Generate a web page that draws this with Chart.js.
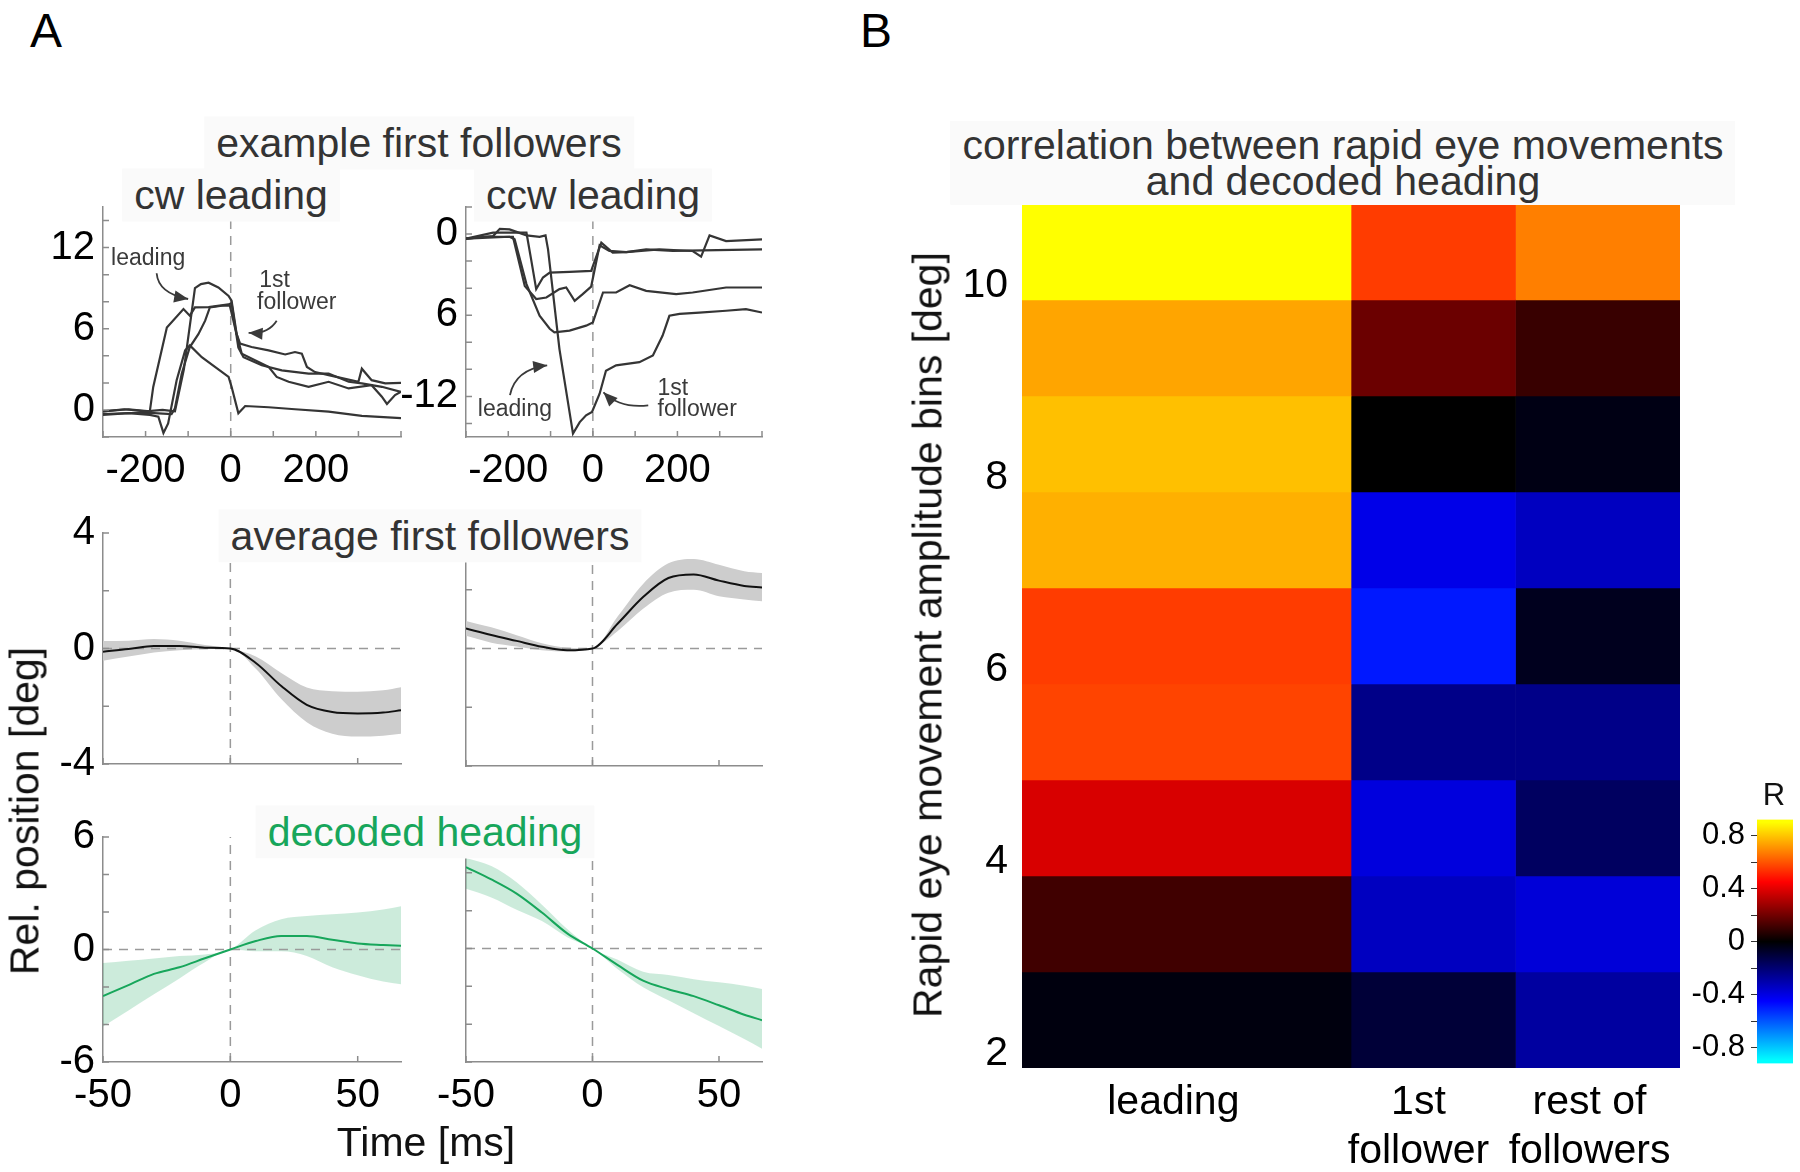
<!DOCTYPE html>
<html>
<head>
<meta charset="utf-8">
<script src="https://cdn.jsdelivr.net/npm/chart.js@4.4.1/dist/chart.umd.min.js"></script>
<style>
  body { margin: 0; width: 1800px; height: 1172px; background: #fff; position: relative; overflow: hidden;
         font-family: "Liberation Sans", Arial, Helvetica, sans-serif; }
  .box { position: absolute; }
  .txt { position: absolute; transform: translate(-50%, -50%); white-space: nowrap; line-height: 1; color: #333; font-size: 41px; }
  .bg { background: #fafafa; padding: 6px 12px; }
  .rot { transform: translate(-50%, -50%) rotate(-90deg); color: #111; }
</style>
</head>
<body>
<div class="box" style="left:3px;top:175px;width:408px;height:322px"><canvas id="cwEx"></canvas></div>
<div class="box" style="left:366px;top:175px;width:406px;height:322px"><canvas id="ccwEx"></canvas></div>
<div class="box" style="left:3px;top:501px;width:408px;height:295px"><canvas id="cwAvg"></canvas></div>
<div class="box" style="left:366px;top:501px;width:406px;height:295px"><canvas id="ccwAvg"></canvas></div>
<div class="box" style="left:3px;top:805px;width:408px;height:317px"><canvas id="cwDec"></canvas></div>
<div class="box" style="left:366px;top:805px;width:406px;height:317px"><canvas id="ccwDec"></canvas></div>
<div class="box" style="left:922px;top:144px;width:768px;height:1030px"><canvas id="heat"></canvas></div>
<div class="box" style="left:1677px;top:795px;width:121px;height:293px"><canvas id="cbar"></canvas></div>

<div class="txt" style="left:46px;top:31px;font-size:48px;color:#000">A</div>
<div class="txt" style="left:876px;top:31px;font-size:48px;color:#000">B</div>
<div class="txt bg" style="left:419px;top:143px">example first followers</div>
<div class="txt bg" style="left:231px;top:195px">cw leading</div>
<div class="txt bg" style="left:593px;top:195px">ccw leading</div>
<div class="txt bg" style="left:430px;top:536px">average first followers</div>
<div class="txt bg" style="left:425px;top:832px;color:#17a65b">decoded heading</div>
<div class="txt" style="left:426px;top:1142px;color:#111">Time [ms]</div>
<div class="txt rot" style="left:25px;top:811px">Rel. position [deg]</div>
<div class="txt bg" style="left:1343px;top:163px;line-height:0.88;text-align:center">correlation between rapid eye movements<br>and decoded heading</div>
<div class="txt rot" style="left:928px;top:635px">Rapid eye movement amplitude bins [deg]</div>
<div class="txt" style="left:1774px;top:794px;font-size:31px;color:#111">R</div>

<script>
// ---- example traces [time ms, position deg] ----
const cwTraceA = [[-300,-0.1],[-250,0.05],[-200,-0.1],[-160,0.0],[-131,-0.1],[-110,3.0],[-84,9.0],[-70,9.3],[-52,9.4],[-29,9.05],[-5,8.43],[2,8.07],[14,5.6],[22,4.9],[49,4.65],[89,4.4],[128,4.1],[151,4.28],[167,4.16],[179,3.18],[198,2.8],[230,2.57],[269,2.3],[300,2.08],[308,3.05],[331,2.2],[363,1.96],[400,2.0]];
const cwTraceB = [[-300,-0.1],[-240,0.05],[-190,-0.1],[-182,1.7],[-150,6.1],[-111,7.46],[-96,6.97],[-84,7.58],[-52,7.6],[-5,7.8],[2,7.9],[18,4.6],[30,3.9],[73,3.3],[120,2.93],[183,2.69],[230,2.69],[277,2.08],[308,1.96],[355,1.71],[400,1.34]];
const cwTraceC = [[-300,-0.3],[-200,-0.2],[-139,-0.3],[-131,0.12],[-115,2.7],[-96,4.65],[-76,5.6],[-60,6.6],[-49,7.58],[-21,7.7],[-2,7.7],[10,6.1],[26,4.16],[57,3.67],[89,3.18],[108,2.44],[136,2.08],[183,1.71],[230,2.08],[277,1.59],[331,1.83],[355,0.98],[367,0.44],[386,1.1],[400,1.34]];
const cwTraceD = [[-300,-0.37],[-240,-0.24],[-190,-0.37],[-170,-0.5],[-158,-1.7],[-147,-1.0],[-127,2.2],[-107,4.4],[-96,4.77],[-68,3.9],[-37,3.18],[-5,2.44],[2,1.71],[18,-0.24],[34,0.29],[89,0.2],[151,0.05],[230,-0.12],[308,-0.44],[400,-0.61]];

const ccwTraceA = [[-300,-0.34],[-236,-0.15],[-220,0.39],[-197,0.34],[-157,-0.1],[-126,-0.2],[-112,-0.1],[-106,-1.13],[-79,-8.5],[-47,-14.75],[-31,-13.9],[-16,-13.4],[-2,-13.15],[16,-11.8],[31,-10.1],[55,-9.7],[110,-9.47],[142,-8.98],[165,-7.5],[181,-6.04],[205,-5.9],[252,-5.8],[315,-5.67],[362,-5.55],[400,-5.8]];
const ccwTraceB = [[-300,-0.34],[-252,-0.2],[-189,-0.2],[-161,-3.83],[-134,-4.8],[-110,-4.69],[-79,-4.07],[-63,-3.95],[-43,-4.93],[-24,-4.44],[-4,-3.88],[16,-0.83],[39,-1.25],[79,-1.33],[157,-1.13],[236,-1.25],[256,-1.67],[276,-0.1],[315,-0.52],[400,-0.39]];
const ccwTraceC = [[-300,-0.34],[-197,-0.2],[-185,-0.39],[-157,-3.7],[-126,-6.04],[-102,-7.0],[-91,-7.26],[-55,-7.14],[-16,-6.77],[0,-6.53],[24,-4.32],[55,-4.32],[87,-3.78],[126,-4.2],[197,-4.44],[236,-4.32],[315,-3.95],[400,-3.95]];
const ccwTraceD = [[-300,-0.34],[-236,0.1],[-157,0.1],[-146,-1.87],[-134,-4.07],[-118,-3.21],[-102,-2.85],[-55,-2.8],[-4,-2.72],[20,-0.64],[47,-1.37],[79,-1.33],[126,-1.13],[189,-1.25],[400,-1.13]];

// ---- averages: time axis, mean and band limits ----
const tAvg = [-50, -40, -30, -20, -10, 0, 10, 20, 30, 40, 50, 60, 67];
const cwAvgMean = [-0.11, -0.02, 0.09, 0.09, 0.03, 0, -0.5, -1.3, -1.95, -2.2, -2.25, -2.22, -2.14];
const cwAvgUp   = [0.26, 0.27, 0.33, 0.27, 0.12, 0, -0.28, -0.85, -1.35, -1.48, -1.5, -1.45, -1.34];
const cwAvgLo   = [-0.42, -0.28, -0.14, -0.06, -0.03, 0, -0.7, -1.75, -2.55, -2.95, -3.05, -3.02, -2.95];
const ccwAvgMean = [0.68, 0.46, 0.26, 0.06, -0.06, 0, 0.85, 1.75, 2.4, 2.52, 2.31, 2.13, 2.08];
const ccwAvgUp   = [0.94, 0.72, 0.45, 0.18, 0.03, 0, 1.1, 2.2, 2.9, 3.05, 2.85, 2.63, 2.57];
const ccwAvgLo   = [0.43, 0.2, 0.07, -0.06, -0.1, 0, 0.6, 1.35, 1.9, 2.0, 1.78, 1.67, 1.61];

const cwDecMean = [-2.48, -1.9, -1.3, -0.95, -0.47, 0, 0.45, 0.72, 0.72, 0.52, 0.32, 0.24, 0.2];
const cwDecUp   = [-0.72, -0.6, -0.48, -0.34, -0.26, 0, 1.03, 1.62, 1.79, 1.88, 1.97, 2.14, 2.31];
const cwDecLo   = [-4.1, -3.25, -2.39, -1.54, -0.68, 0, -0.09, -0.09, -0.34, -0.94, -1.37, -1.71, -1.85];
const ccwDecMean = [4.3, 3.65, 2.9, 1.9, 0.8, 0, -0.88, -1.7, -2.15, -2.52, -3.0, -3.5, -3.79];
const ccwDecUp   = [4.79, 4.36, 3.5, 2.31, 1.03, 0, -0.6, -1.23, -1.4, -1.62, -1.79, -1.97, -2.14];
const ccwDecLo   = [3.16, 2.7, 2.05, 1.45, 0.6, 0, -1.1, -2.05, -2.74, -3.42, -4.1, -4.79, -5.3];

// ---- tick labels ----
const exXTicks = [-200, 0, 200];
const avgXTicks = [-50, 0, 50];
const cwExYVals = [0, 6, 12];
const cwExYText = ['0', '6', '12'];
const ccwExYVals = [0, -6, -12];
const ccwExYText = ['0', '6', '-12'];
const avgYVals = [4, 0, -4];
const decYVals = [6, 0, -6];

// ---- heatmap: correlation R, rows bottom (2) to top (10) ----
const ampBins = [2.35, 3.35, 4.35, 5.35, 6.35, 7.35, 8.35, 9.35, 10.35];
const heatCols = ['leading', '1st follower', 'rest of followers'];
const heatColEdges = [0, 2, 3, 4];
const heatColTicks = [0.92, 2.41, 3.45];
const heatColText = [['leading'], ['1st', 'follower'], ['rest of', 'followers']];
const rLeading = [-0.025, 0.113, 0.381, 0.57, 0.556, 0.76, 0.789, 0.741, 0.9];
const rFirst   = [-0.099, -0.339, -0.39, -0.24, -0.492, -0.409, 0.0, 0.189, 0.556];
const rRest    = [-0.282, -0.381, -0.169, -0.24, -0.053, -0.339, -0.035, 0.099, 0.674];
const cbTickVals = [-0.8, -0.4, 0, 0.4, 0.8];
const cbTickText = ['-0.8', '-0.4', '0', '0.4', '0.8'];

Chart.defaults.font.family = '"Liberation Sans", Arial, Helvetica, sans-serif';
Chart.defaults.color = '#000';
const AXIS = '#8c8c8c';
const GREEN = '#17a65b';
const GREEN_BAND = 'rgba(23,166,91,0.22)';
const GRAY_BAND = '#cdcdcd';
const cLim = 0.9;

// cold-hot colormap: cyan-blue-black-red-yellow
function cmap(v) {
    const t = Math.max(-1, Math.min(1, v / cLim));
    const a = Math.abs(t);
    const hi = Math.round(255 * Math.min(1, 2 * a));
    const mid = Math.round(255 * Math.max(0, 2 * a - 1));
    return t >= 0 ? `rgb(${hi},${mid},0)` : `rgb(0,${mid},${hi})`;
}

// matlab style inward tick marks
const inTicks = {
    id: 'inTicks',
    afterDraw(chart) {
        const {ctx, chartArea: a, scales: {x, y}} = chart;
        ctx.save();
        ctx.strokeStyle = AXIS;
        ctx.lineWidth = 1.5;
        ctx.beginPath();
        x.ticks.forEach(t => { const p = x.getPixelForValue(t.value); ctx.moveTo(p, a.bottom); ctx.lineTo(p, a.bottom - 6); });
        y.ticks.forEach(t => { const p = y.getPixelForValue(t.value); ctx.moveTo(a.left, p); ctx.lineTo(a.left + 6, p); });
        ctx.stroke();
        ctx.restore();
    }
};

// small text + curved arrows, placed in data units
function notesPlugin(notes) {
    return {
        id: 'notes',
        afterDatasetsDraw(chart) {
            if (!notes) return;
            const {ctx, scales: {x, y}} = chart;
            const P = p => [x.getPixelForValue(p[0]), y.getPixelForValue(p[1])];
            ctx.save();
            ctx.fillStyle = '#3a3a3a';
            ctx.strokeStyle = '#3a3a3a';
            ctx.font = '23px "Liberation Sans", Arial, sans-serif';
            ctx.textBaseline = 'middle';
            notes.text.forEach(t => { const p = P([t.x, t.y]); ctx.fillText(t.s, p[0], p[1]); });
            ctx.lineWidth = 1.8;
            notes.arrows.forEach(ar => {
                const p0 = P(ar.from), p1 = P(ar.ctrl), p2 = P(ar.to);
                ctx.beginPath();
                ctx.moveTo(p0[0], p0[1]);
                ctx.quadraticCurveTo(p1[0], p1[1], p2[0], p2[1]);
                ctx.stroke();
                const ang = Math.atan2(p2[1] - p1[1], p2[0] - p1[0]);
                const L = 14, W = 6;
                ctx.beginPath();
                ctx.moveTo(p2[0], p2[1]);
                ctx.lineTo(p2[0] - L * Math.cos(ang) + W * Math.sin(ang), p2[1] - L * Math.sin(ang) - W * Math.cos(ang));
                ctx.lineTo(p2[0] - L * Math.cos(ang) - W * Math.sin(ang), p2[1] - L * Math.sin(ang) + W * Math.cos(ang));
                ctx.closePath();
                ctx.fill();
            });
            ctx.restore();
        }
    };
}

const pts = arr => arr.map(p => ({x: p[0], y: p[1]}));
const zip = (xs, ys) => xs.map((x, i) => ({x, y: ys[i]}));

function trace(arr) {
    return {data: pts(arr), borderColor: '#353535', borderWidth: 2.2, pointRadius: 0, tension: 0, fill: false, order: 0};
}
function dashed(data) {
    return {data, borderColor: '#9a9a9a', borderDash: [9, 7], borderWidth: 1.5, pointRadius: 0, fill: false, order: 1};
}
function band(t, mean, up, lo, lineColor, bandColor) {
    return [
        {data: zip(t, mean), borderColor: lineColor, borderWidth: 2, pointRadius: 0, cubicInterpolationMode: 'monotone', fill: false, order: 0},
        {data: zip(t, lo), borderWidth: 0, pointRadius: 0, cubicInterpolationMode: 'monotone', fill: false, order: 2},
        {data: zip(t, up), borderWidth: 0, pointRadius: 0, cubicInterpolationMode: 'monotone', fill: '-1', backgroundColor: bandColor, order: 2}
    ];
}

function makeChart(id, c) {
    return new Chart(document.getElementById(id), {
        type: 'line',
        data: {datasets: c.datasets},
        options: {
            responsive: true,
            maintainAspectRatio: false,
            animation: false,
            layout: {padding: {top: 30, right: 10, bottom: 0, left: 0}},
            plugins: {legend: {display: false}, tooltip: {enabled: false}},
            scales: {
                x: {
                    type: 'linear', min: c.xMin, max: c.xMax,
                    grid: {display: false, drawTicks: false},
                    border: {color: AXIS, width: 1.5},
                    ticks: {
                        display: !!c.xVals, stepSize: c.xStep, includeBounds: false, autoSkip: false, maxRotation: 0,
                        padding: 10, font: {size: 40},
                        callback: v => (c.xVals && c.xVals.indexOf(v) >= 0) ? String(v) : ''
                    },
                    afterFit: s => { s.height = c.xVals ? 60 : 30; }
                },
                y: {
                    min: c.yMin, max: c.yMax,
                    grid: {display: false, drawTicks: false},
                    border: {color: AXIS, width: 1.5},
                    ticks: {
                        display: !!c.yVals, stepSize: 2, includeBounds: false, autoSkip: false,
                        padding: 8, font: {size: 40},
                        callback: v => { const i = c.yVals ? c.yVals.indexOf(v) : -1; return i < 0 ? '' : c.yText[i]; }
                    },
                    afterFit: s => { s.width = 100; }
                }
            }
        },
        plugins: [inTicks, notesPlugin(c.notes)]
    });
}

// row 1: example first followers
makeChart('cwEx', {
    datasets: [trace(cwTraceA), trace(cwTraceB), trace(cwTraceC), trace(cwTraceD), dashed([{x: 0, y: -2}, {x: 0, y: 15}])],
    xMin: -300, xMax: 400, xStep: 100, xVals: exXTicks,
    yMin: -2, yMax: 15, yVals: cwExYVals, yText: cwExYText,
    notes: {
        text: [{s: 'leading', x: -281, y: 11.2}, {s: '1st', x: 67, y: 9.55}, {s: 'follower', x: 62, y: 7.9}],
        arrows: [{from: [-174, 10.1], ctrl: [-170, 8.6], to: [-100, 8.2]}, {from: [108, 6.6], ctrl: [88, 5.6], to: [42, 5.7]}]
    }
});
makeChart('ccwEx', {
    datasets: [trace(ccwTraceA), trace(ccwTraceB), trace(ccwTraceC), trace(ccwTraceD), dashed([{x: 0, y: -15}, {x: 0, y: 2}])],
    xMin: -300, xMax: 400, xStep: 100, xVals: exXTicks,
    yMin: -15, yMax: 2, yVals: ccwExYVals, yText: ccwExYText,
    notes: {
        text: [{s: 'leading', x: -272, y: -13.0}, {s: '1st', x: 153, y: -11.4}, {s: 'follower', x: 153, y: -13.0}],
        arrows: [{from: [-196, -11.9], ctrl: [-184, -10.0], to: [-108, -9.7]}, {from: [131, -12.66], ctrl: [64, -12.9], to: [25, -11.7]}]
    }
});

// row 2: average first followers
makeChart('cwAvg', {
    datasets: [...band(tAvg, cwAvgMean, cwAvgUp, cwAvgLo, '#111', GRAY_BAND),
        dashed([{x: 0, y: -4}, {x: 0, y: 4}]), dashed([{x: -50, y: 0}, {x: 67, y: 0}])],
    xMin: -50, xMax: 67, xStep: 50, xVals: null,
    yMin: -4, yMax: 4, yVals: avgYVals, yText: avgYVals.map(String)
});
makeChart('ccwAvg', {
    datasets: [...band(tAvg, ccwAvgMean, ccwAvgUp, ccwAvgLo, '#111', GRAY_BAND),
        dashed([{x: 0, y: -4}, {x: 0, y: 4}]), dashed([{x: -50, y: 0}, {x: 67, y: 0}])],
    xMin: -50, xMax: 67, xStep: 50, xVals: null,
    yMin: -4, yMax: 4, yVals: null
});

// row 3: decoded heading
makeChart('cwDec', {
    datasets: [...band(tAvg, cwDecMean, cwDecUp, cwDecLo, GREEN, GREEN_BAND),
        dashed([{x: 0, y: -6}, {x: 0, y: 6}]), dashed([{x: -50, y: 0}, {x: 67, y: 0}])],
    xMin: -50, xMax: 67, xStep: 50, xVals: avgXTicks,
    yMin: -6, yMax: 6, yVals: decYVals, yText: decYVals.map(String)
});
makeChart('ccwDec', {
    datasets: [...band(tAvg, ccwDecMean, ccwDecUp, ccwDecLo, GREEN, GREEN_BAND),
        dashed([{x: 0, y: -6}, {x: 0, y: 6}]), dashed([{x: -50, y: 0}, {x: 67, y: 0}])],
    xMin: -50, xMax: 67, xStep: 50, xVals: avgXTicks,
    yMin: -6, yMax: 6, yVals: null
});

// B: heatmap from floating horizontal bars
const heatR = [rLeading, rFirst, rRest];
new Chart(document.getElementById('heat'), {
    type: 'bar',
    data: {
        datasets: heatCols.map((name, c) => ({
            label: name,
            data: ampBins.map(b => ({y: b, x: [heatColEdges[c], heatColEdges[c + 1]]})),
            backgroundColor: heatR[c].map(cmap),
            borderWidth: 0,
            grouped: false,
            barPercentage: 1,
            categoryPercentage: 1
        }))
    },
    options: {
        indexAxis: 'y',
        responsive: true,
        maintainAspectRatio: false,
        animation: false,
        layout: {padding: {top: 60, right: 10, bottom: 0, left: 0}},
        plugins: {legend: {display: false}, tooltip: {enabled: false}},
        scales: {
            x: {
                type: 'linear', min: 0, max: 4,
                grid: {display: false, drawTicks: false},
                border: {display: false},
                afterBuildTicks: s => { s.ticks = heatColTicks.map(v => ({value: v})); },
                ticks: {autoSkip: false, maxRotation: 0, padding: 10, font: {size: 41},
                        callback: (v, i) => heatColText[i]},
                afterFit: s => { s.height = 106; }
            },
            y: {
                type: 'linear', min: 1.85, max: 10.85, offset: false,
                grid: {display: false, drawTicks: false, offset: false},
                border: {display: false},
                ticks: {stepSize: 2, includeBounds: false, padding: 14, font: {size: 41}},
                afterFit: s => { s.width = 100; }
            }
        }
    }
});

// colorbar
const cbMin = -0.92, cbMax = 0.92;
new Chart(document.getElementById('cbar'), {
    type: 'bar',
    data: {
        labels: ['R'],
        datasets: [{
            data: [[cbMin, cbMax]],
            borderWidth: 0,
            barPercentage: 1,
            categoryPercentage: 1,
            backgroundColor: ctx => {
                const chart = ctx.chart;
                if (!chart.chartArea) return 'transparent';
                const ys = chart.scales.y;
                const y0 = ys.getPixelForValue(cbMin), y1 = ys.getPixelForValue(cbMax);
                const g = chart.ctx.createLinearGradient(0, y0, 0, y1);
                [cbMin, -cLim, -cLim / 2, 0, cLim / 2, cLim, cbMax].forEach(v => {
                    g.addColorStop((v - cbMin) / (cbMax - cbMin), cmap(v));
                });
                return g;
            }
        }]
    },
    options: {
        responsive: true,
        maintainAspectRatio: false,
        animation: false,
        layout: {padding: {top: 20, right: 5, bottom: 20, left: 0}},
        plugins: {legend: {display: false}, tooltip: {enabled: false}},
        scales: {
            x: {display: false},
            y: {
                min: cbMin, max: cbMax,
                grid: {drawOnChartArea: false, drawTicks: true, tickLength: 6, color: '#333'},
                border: {display: false},
                ticks: {
                    stepSize: 0.2, includeBounds: false, autoSkip: false, padding: 6, font: {size: 31},
                    callback: v => { const i = cbTickVals.findIndex(t => Math.abs(t - v) < 1e-6); return i < 0 ? '' : cbTickText[i]; }
                },
                afterFit: s => { s.width = 80; }
            }
        }
    }
});
</script>
</body>
</html>
